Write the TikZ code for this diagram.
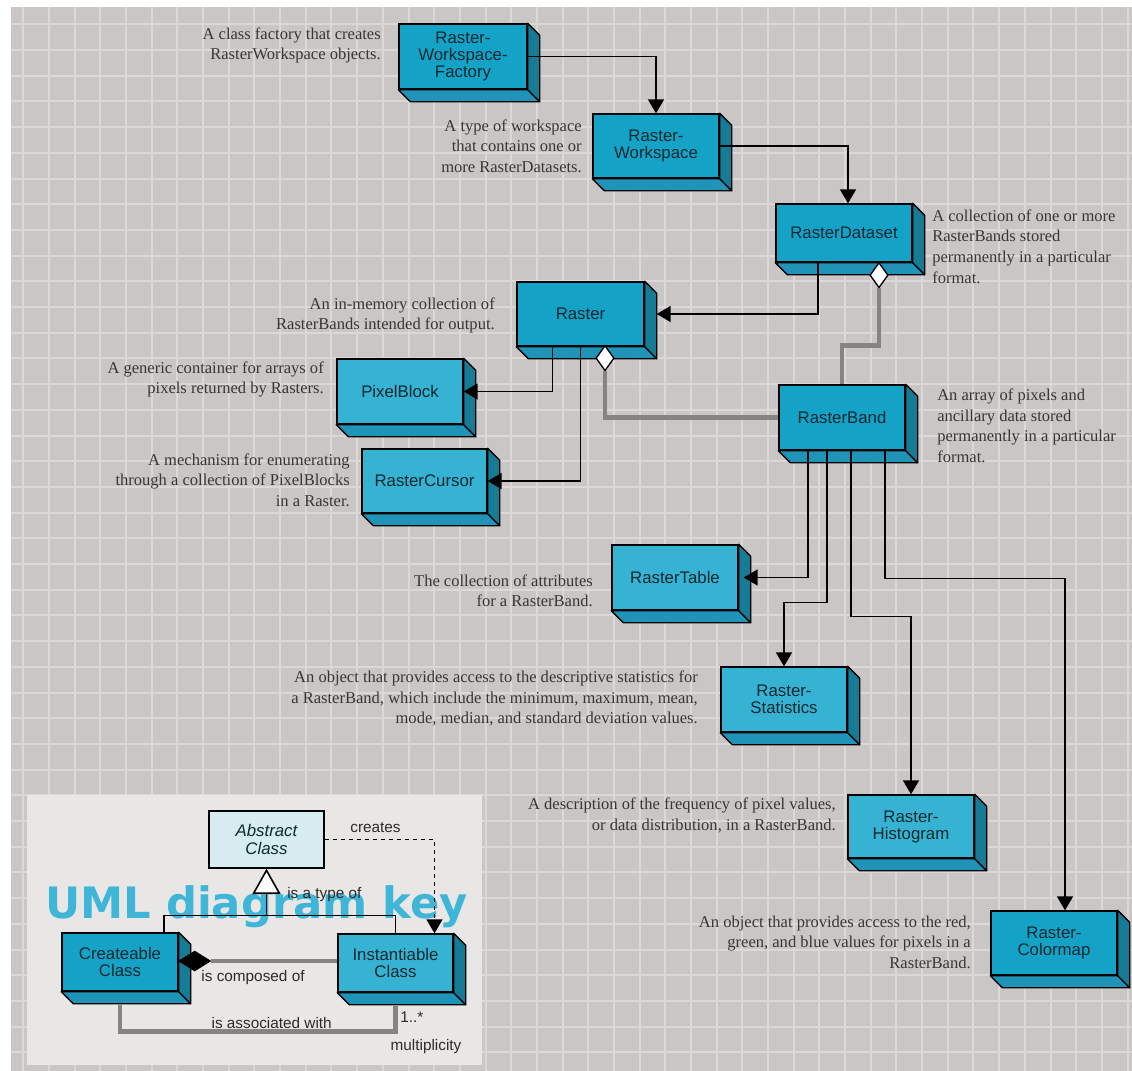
\documentclass[tikz,border=0pt]{standalone}
\usepackage{fontspec}
\usepackage{graphicx}
\setmainfont{Liberation Serif}
\setsansfont{Liberation Sans}
\newfontfamily\bigkeyfont{DejaVu Sans}
\usetikzlibrary{arrows.meta,calc,shapes.geometric}
\definecolor{bgc}{HTML}{CAC6C6}
\definecolor{gridc}{HTML}{DCD8D8}
\definecolor{panelc}{HTML}{E9E6E6}
\definecolor{frontA}{HTML}{14A3C6}
\definecolor{frontB}{HTML}{36B3D3}
\definecolor{sidec}{HTML}{167C96}
\definecolor{botc}{HTML}{1F93B8}
\definecolor{absc}{HTML}{D6ECF0}
\definecolor{bigc}{HTML}{3FB6D8}
\definecolor{grayln}{HTML}{878383}
\definecolor{desc}{HTML}{3A3535}
\definecolor{boxtxt}{HTML}{0E2830}
\definecolor{keytxt}{HTML}{2E2A2A}
\tikzset{
  boxfront/.style={draw=black, line width=1pt, inner sep=0pt, align=center, text=boxtxt,
    font=\sffamily\fontsize{12.6}{12.8}\selectfont},
  faceline/.style={draw=black, line width=1pt, line join=round},
  gridln/.style={draw=gridc, line width=1.5pt},
  blk/.style={draw=black, line width=1.2pt, -{Triangle[length=10.5pt,width=12pt]}},
  blkdash/.style={draw=black, line width=1pt, dashed, -{Triangle[length=10.5pt,width=12pt]}},
  gen/.style={draw=black, line width=1.2pt},
  gry/.style={draw=grayln, line width=3.4pt},
  aggdia/.style={diamond, draw=black, fill=white, line width=0.9pt, inner sep=0pt,
    minimum width=13.5pt, minimum height=18.75pt},
  compdia/.style={diamond, draw=black, fill=black, line width=0.6pt, inner sep=0pt,
    minimum width=24pt, minimum height=15pt},
  descr/.style={inner sep=0pt, text=desc, font=\rmfamily\fontsize{12.4}{15.4}\selectfont},
  keylab/.style={inner sep=0pt, text=keytxt, font=\sffamily\fontsize{11.5}{13}\selectfont},
}
% name, center, width(px), height(px), fill, text
\newcommand\tdbox[6]{%
  \node[boxfront, fill=#5, minimum width={#3*0.75pt}, minimum height={#4*0.75pt}] (#1) at (#2) {#6};
  \draw[faceline, fill=botc] (#1.south west) -- (#1.south east) -- ++(12,12) -- ($(#1.south west)+(12,12)$) -- cycle;
  \draw[faceline, fill=sidec] (#1.north east) -- ++(12,12) -- ($(#1.south east)+(12,12)$) -- (#1.south east) -- cycle;
}
\begin{document}
\begin{tikzpicture}[x=0.75pt,y=-0.75pt]
\useasboundingbox (0,0) rectangle (1132,1071);
\fill[white] (0,0) rectangle (1132,1071);
\fill[bgc] (11,7) rectangle (1132,1071);
\begin{scope}
  \clip (11,7) rectangle (1132,1071);
  \foreach \i in {0,...,43} { \draw[gridln] ({23.3+25.68*\i},7) -- ({23.3+25.68*\i},1071); }
  \foreach \j in {0,...,41} { \draw[gridln] (11,{24.3+25.7*\j}) -- (1132,{24.3+25.7*\j}); }
\end{scope}

% key panel
\fill[panelc] (27,795) rectangle (482,1065);
\node[anchor=base west, inner sep=0pt, text=bigc, font=\bigkeyfont\bfseries] (bigkey) at (45,918)
  {\resizebox{317pt}{!}{UML diagram key}};

% main boxes
\tdbox{fac}{463,56.5}{128}{65}{frontA}{Raster-\\Workspace-\\Factory}
\tdbox{ws}{656,146}{126}{64}{frontA}{Raster-\\Workspace}
\tdbox{ds}{844,233}{136}{58}{frontA}{RasterDataset}
\tdbox{ra}{580.5,314}{127}{64}{frontA}{Raster}
\tdbox{pb}{400,391.5}{126}{65}{frontB}{PixelBlock}
\tdbox{band}{842,417.5}{126}{65}{frontA}{RasterBand}
\tdbox{cu}{424.5,481}{125}{64}{frontB}{RasterCursor}
\tdbox{tb}{675,577.5}{126}{65}{frontB}{RasterTable}
\tdbox{st}{784,699.5}{126}{65}{frontB}{Raster-\\Statistics}
\tdbox{hi}{911,826.5}{126}{63}{frontB}{Raster-\\Histogram}
\tdbox{cm}{1054,943}{126}{64}{frontA}{Raster-\\Colormap}

% key boxes
\node[boxfront, fill=absc, minimum width={115*0.75pt}, minimum height={57*0.75pt},
  font=\sffamily\itshape\fontsize{12.6}{12.8}\selectfont] (ab) at (266.5,839.5) {Abstract\\Class};
\tdbox{cr}{120,962}{116}{58}{frontA}{Createable\\Class}
\tdbox{in}{395.5,963}{115}{58}{frontB}{Instantiable\\Class}

% main connectors
\draw[blk] (fac.east) -| (ws.north);
\draw[blk] (ws.east) -| ($(ds.north)+(4,0)$);
\draw[blk] ($(ds.south)+(-26,0)$) |- ($(ra.east)+(12,0)$);
\node[aggdia] (dg1) at ($(ds.south)+(35,12.5)$) {};
\draw[gry] (band.north) -- ++(0,-39) -| (dg1.south);
\node[aggdia] (dg1b) at (dg1) {};
\node[aggdia] (dg2) at ($(ra.south)+(24.5,11.5)$) {};
\draw[gry] (band.west) -| (dg2.south);
\node[aggdia] (dg2b) at (dg2) {};
\draw[blk] ($(ra.south)+(-28,0)$) |- (pb.east);
\draw[blk] (ra.south) |- (cu.east);
\draw[blk] ($(band.south)+(-34,0)$) |- ($(tb.east)+(5,0)$);
\draw[blk] ($(band.south)+(-15,0)$) -- ++(0,152) -| (st.north);
\draw[blk] ($(band.south)+(9,0)$) -- ++(0,166) -| (hi.north);
\draw[blk] ($(band.south)+(43,0)$) -- ++(0,128) -| ($(cm.north)+(11,0)$);

% key connectors
\coordinate (gj) at ($(ab.south)+(0,47)$);
\draw[gen] ($(cr.north)+(44,0)$) |- (gj) -| (in.north);
\draw[gen, -{Triangle[fill=white,length=19pt,width=21pt]}] (gj) -- (ab.south);
\draw[blkdash] (ab.east) -| ($(in.north)+(39,0)$);
\node[compdia] (cd) at ($(cr.east)+(16,-1)$) {};
\draw[gry] (cd.east) -- (cd.east -| in.west);
\draw[gry] ($(cr.south)+(0,13)$) -- ++(0,27) -| ($(in.south)+(0,13)$);

% key labels
\node[keylab, anchor=west] (lt) at (287,895) {is a type of};
\node[keylab] (lc) at (375.5,828) {creates};
\node[keylab] (lco) at (253,978) {is composed of};
\node[keylab] (las) at (271.7,1023) {is associated with};
\node[keylab, anchor=west] (lm1) at (400,1017) {1..*};
\node[keylab] (lm) at (426,1047) {multiplicity};

% descriptions
\node[descr, anchor=east, align=right] (d1) at (381,45.5) {A class factory that creates\\RasterWorkspace objects.};
\node[descr, anchor=east, align=right] (d2) at (582,146) {A type of workspace\\that contains one or\\more RasterDatasets.};
\node[descr, anchor=west, align=left] (d3) at (932,246.5) {A collection of one or more\\RasterBands stored\\permanently in a particular\\format.};
\node[descr, anchor=east, align=right] (d4) at (495,315.5) {An in-memory collection of\\RasterBands intended for output.};
\node[descr, anchor=east, align=right] (d5) at (324,379.5) {A generic container for arrays of\\pixels returned by Rasters.};
\node[descr, anchor=east, align=right] (d6) at (350,480) {A mechanism for enumerating\\through a collection of PixelBlocks\\in a Raster.};
\node[descr, anchor=west, align=left] (d7) at (937,426) {An array of pixels and\\ancillary data stored\\permanently in a particular\\format.};
\node[descr, anchor=east, align=right] (d8) at (593,591) {The collection of attributes\\for a RasterBand.};
\node[descr, anchor=east, align=right] (d9) at (698,698.5) {An object that provides access to the descriptive statistics for\\a RasterBand, which include the minimum, maximum, mean,\\mode, median, and standard deviation values.};
\node[descr, anchor=east, align=right] (d10) at (836,815.5) {A description of the frequency of pixel values,\\or data distribution, in a RasterBand.};
\node[descr, anchor=east, align=right] (d11) at (971,942) {An object that provides access to the red,\\green, and blue values for pixels in a\\RasterBand.};
\end{tikzpicture}
\end{document}
